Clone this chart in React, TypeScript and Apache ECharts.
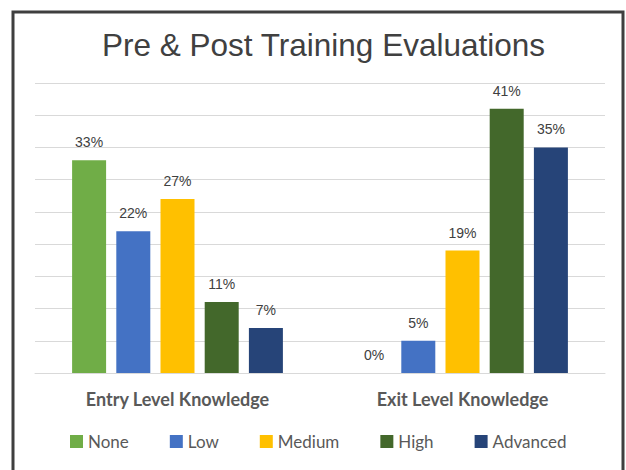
import React, { useEffect, useRef } from "react";
import * as echarts from "echarts";

const categories = ["Entry Level Knowledge", "Exit Level Knowledge"];
const seriesNames = ["None", "Low", "Medium", "High", "Advanced"];
const seriesValues = [
  [33, 0],
  [22, 5],
  [27, 19],
  [11, 41],
  [7, 35],
];
const colors = ["#70AD47", "#4472C4", "#FFC000", "#43682B", "#264478"];
const titleText = "Pre & Post Training Evaluations";

export default function App() {
  const ref = useRef<HTMLDivElement>(null);
  useEffect(() => {
    if (!ref.current) return;
    const chart = echarts.init(ref.current, undefined, { renderer: "svg" });
    chart.setOption({
      animation: false,
      backgroundColor: "#ffffff",
      title: {
        text: titleText,
        left: 97,
        top: 24,
        textStyle: {
          fontFamily: "Liberation Sans",
          fontSize: 31.5,
          fontWeight: "normal",
          color: "#404040",
        },
      },
      graphic: [
        {
          type: "rect",
          shape: { x: 13, y: 12, width: 610, height: 470 },
          style: { fill: "none", stroke: "#3f3f3f", lineWidth: 3 },
          z: 100,
        },
      ],
      legend: {
        data: seriesNames,
        left: 70,
        top: 433,
        padding: 0,
        itemWidth: 13,
        itemHeight: 13,
        itemGap: 41,
        icon: "rect",
        textStyle: { fontFamily: "Lato", fontSize: 17, color: "#595959" },
      },
      grid: { left: 35, right: 21, top: 83, bottom: 97 },
      xAxis: {
        type: "category",
        data: categories,
        axisLine: { show: true, lineStyle: { color: "#d9d9d9", width: 1 } },
        axisTick: { show: false },
        axisLabel: {
          margin: 17,
          fontFamily: "Lato",
          fontWeight: "bold",
          fontSize: 18,
          color: "#595959",
        },
      },
      yAxis: {
        type: "value",
        min: 0,
        max: 45,
        interval: 5,
        axisLabel: { show: false },
        axisLine: { show: false },
        axisTick: { show: false },
        splitLine: { lineStyle: { color: "#d9d9d9", width: 1 } },
      },
      series: seriesNames.map((name, i) => ({
        name,
        type: "bar",
        data: seriesValues[i],
        barWidth: 34,
        barGap: "30%",
        itemStyle: { color: colors[i] },
        label: {
          show: true,
          position: "top",
          distance: 11,
          formatter: "{c}%",
          fontFamily: "Liberation Sans",
          fontSize: 14,
          color: "#404040",
        },
      })),
    });
    return () => chart.dispose();
  }, []);
  return (
    <div
      ref={ref}
      style={{ position: "fixed", left: 0, top: 0, width: 626, height: 470 }}
    />
  );
}
